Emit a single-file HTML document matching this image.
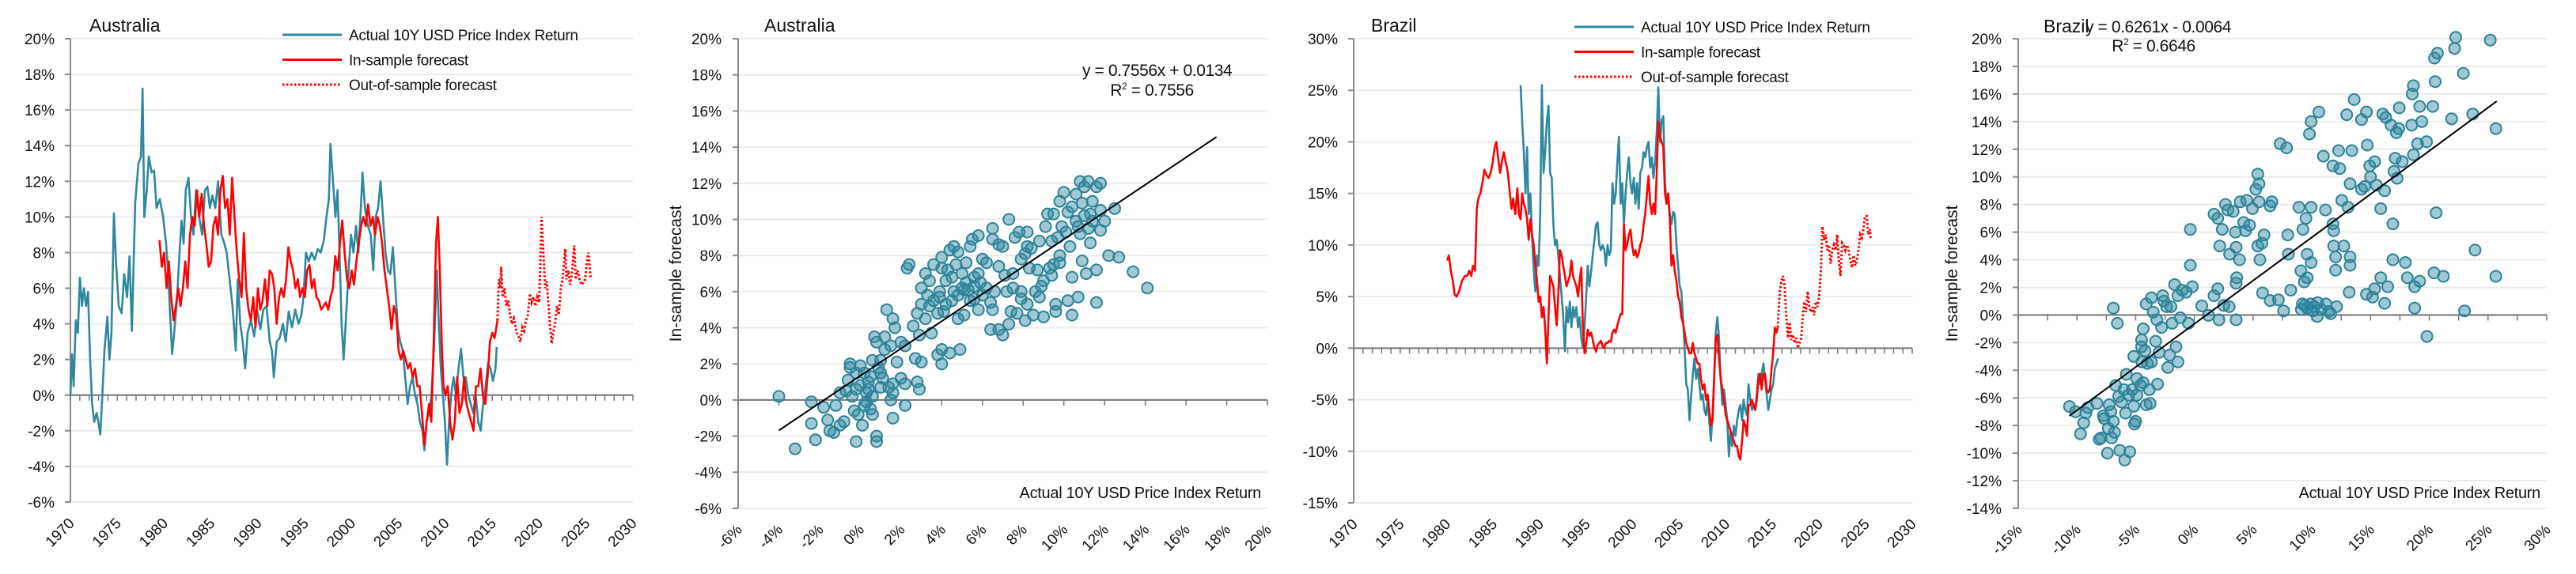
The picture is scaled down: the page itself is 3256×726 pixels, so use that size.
<!DOCTYPE html>
<html><head><meta charset="utf-8"><style>
html,body{margin:0;padding:0;background:#fff;}
svg{display:block;font-family:"Liberation Sans",sans-serif;}
</style></head><body>
<svg id="chart" xmlns="http://www.w3.org/2000/svg" width="3256" height="726" viewBox="0 0 3256 726"></svg>
<script>
// ===== Panel 1: Australia time series =====
const ausActYears=[1970.00,1970.18,1970.35,1970.57,1970.79,1971.01,1971.23,1971.44,1971.66,1971.88,1972.10,1972.32,1972.54,1972.80,1972.98,1973.19,1973.41,1973.63,1973.94,1974.16,1974.38,1974.64,1974.86,1975.16,1975.47,1975.73,1976.04,1976.30,1976.56,1976.91,1977.26,1977.53,1977.70,1977.88,1978.14,1978.36,1978.66,1978.93,1979.19,1979.54,1979.89,1980.20,1980.41,1980.63,1980.85,1981.07,1981.38,1981.64,1981.86,1982.08,1982.30,1982.60,1982.87,1983.13,1983.39,1983.74,1984.05,1984.35,1984.62,1984.88,1985.14,1985.45,1985.75,1986.10,1986.37,1986.67,1986.98,1987.29,1987.64,1987.85,1988.12,1988.38,1988.64,1988.90,1989.25,1989.60,1989.91,1990.26,1990.57,1990.92,1991.27,1991.49,1991.70,1992.01,1992.32,1992.67,1992.97,1993.28,1993.63,1993.98,1994.33,1994.64,1994.86,1995.12,1995.42,1995.73,1996.04,1996.39,1996.69,1997.04,1997.31,1997.57,1997.74,1998.01,1998.27,1998.49,1998.71,1998.93,1999.14,1999.41,1999.67,1999.93,2000.19,2000.46,2000.72,2000.98,2001.16,2001.42,2001.73,2002.03,2002.30,2002.56,2002.82,2003.08,2003.34,2003.61,2003.87,2004.13,2004.40,2004.66,2004.92,2005.18,2005.45,2005.71,2005.97,2006.23,2006.50,2006.76,2007.02,2007.28,2007.55,2007.76,2007.98,2008.25,2008.51,2008.77,2009.08,2009.30,2009.51,2009.73,2009.95,2010.17,2010.39,2010.61,2010.87,2011.13,2011.40,2011.66,2011.92,2012.18,2012.45,2012.71,2012.97,2013.23,2013.50,2013.76,2014.02,2014.29,2014.55,2014.81,2015.07,2015.34,2015.47];
const ausActVals=[0,2.3,0.5,4.2,3.5,6.6,5,6,5,5.8,2,-0.5,-1.5,-1,-1.5,-2.2,0,2.5,4.4,2,3.5,10.2,7.5,5,4.6,6.8,5.5,7.8,3.6,10.8,13,13.4,17.2,10,11.5,13.4,12.5,12.6,10.5,11,10,8.5,7,4.5,2.3,3.5,5.5,8,9.8,8.5,11.5,12.2,10,9,11.5,10,9,11.5,11.7,10.5,11.2,10.5,12,9,8.6,8,6.5,5,2.5,6.5,4,3,1.5,3.5,4.2,3.3,4.8,3.7,4.8,5,3,2.5,1,3,3.2,4,3,4.7,3.8,4.8,4,4.5,5.5,8,7.5,8,7.6,8.2,8,8.7,10,11,14.1,12,10,11.5,8,4,2,4.5,7,9,8,9.5,8,10.5,12.5,10.5,9.5,9,7,10,10.5,12,10,8,7,6.8,8.3,6,3.8,3,2.5,1,-0.5,0.5,1,0,-0.5,-1.5,-2,-3.1,-1.5,-1,0,2.5,7,4,1.5,0,-1.5,-3.9,-1.5,0,1,0,1.5,2.6,1,1,0,-0.5,-1,0,-1.5,-2,-0.5,0.5,1.8,1.5,0.8,1.5,2.7];
const ausInYears=[1979.5,1979.75,1980.0,1980.25,1980.5,1980.75,1981.0,1981.25,1981.5,1981.75,1982.0,1982.25,1982.5,1982.75,1983.0,1983.25,1983.5,1983.75,1984.0,1984.25,1984.5,1984.75,1985.0,1985.25,1985.5,1985.75,1986.0,1986.25,1986.5,1986.75,1987.0,1987.25,1987.5,1987.75,1988.0,1988.25,1988.5,1988.75,1989.0,1989.25,1989.5,1989.75,1990.0,1990.25,1990.5,1990.75,1991.0,1991.25,1991.5,1991.75,1992.0,1992.25,1992.5,1992.75,1993.0,1993.25,1993.5,1993.75,1994.0,1994.25,1994.5,1994.75,1995.0,1995.25,1995.5,1995.75,1996.0,1996.25,1996.5,1996.75,1997.0,1997.25,1997.5,1997.75,1998.0,1998.25,1998.5,1998.75,1999.0,1999.25,1999.5,1999.75,2000.0,2000.25,2000.5,2000.75,2001.0,2001.25,2001.5,2001.75,2002.0,2002.25,2002.5,2002.75,2003.0,2003.25,2003.5,2003.75,2004.0,2004.25,2004.5,2004.75,2005.0,2005.25,2005.5,2005.75,2006.0,2006.25,2006.5,2006.75,2007.0,2007.25,2007.5,2007.75,2008.0,2008.25,2008.5,2008.75,2009.0,2009.2,2009.4,2009.6,2009.8,2010.0,2010.25,2010.5,2010.75,2011.0,2011.25,2011.5,2011.75,2012.0,2012.25,2012.5,2012.75,2013.0,2013.25,2013.5,2013.75,2014.0,2014.25,2014.5,2014.75,2015.0,2015.25,2015.55];
const ausInVals=[8.7,7.2,8,6,7.5,5.5,4.2,5,6,5,6,7.5,6,9,10,9.5,11.5,10,11.3,9.5,8.5,7.2,7.5,9.5,10,9,11.5,12.3,10.5,11,9,12.2,10,8,6.5,5.5,9.1,6,4.8,4.2,5.5,3.8,6,4.8,5.3,6.5,5,7,6.8,6,4,5.5,6,5.5,6.5,8.3,7.5,7,6,6.5,5.5,6,5.5,7,7.3,6,6.5,5.5,5.3,4.8,5,5.2,4.8,5.5,6,7.8,7,8.5,9.8,8,6.5,6,7,6.2,7.5,8.5,9.5,10,9.5,10.7,9.5,10,9,10,9.5,8.5,7,6,5,3.7,5,4.5,2.5,2,2.5,2,1.5,1.8,1,1.5,0.5,0.5,-1,-2.8,-1.5,-0.5,-1.5,3,8.5,10,7,3,0.5,0,0.5,-1.5,-2.5,-1.5,1,-1,-0.5,1,-0.5,-1,-1.5,-2,0.5,0.5,1.5,0,-0.5,1,3,3.5,3.2,4.2];
const ausOutYears=[2015.55,2015.7,2015.85,2015.95,2016.1,2016.3,2016.5,2016.7,2016.9,2017.1,2017.3,2017.6,2017.8,2018.0,2018.2,2018.4,2018.6,2018.8,2019.0,2019.2,2019.4,2019.6,2019.8,2020.0,2020.1,2020.25,2020.45,2020.65,2020.8,2021.0,2021.15,2021.33,2021.5,2021.7,2021.9,2022.1,2022.3,2022.5,2022.78,2022.9,2023.1,2023.3,2023.5,2023.74,2023.9,2024.1,2024.3,2024.5,2024.7,2024.9,2025.1,2025.27,2025.5];
const ausOutVals=[4.2,6.5,6,7.2,5.5,6,5,5.3,4.5,4,4.3,3.5,3.3,3,3.8,3.6,4.2,4.5,5.7,5.2,5.5,5,5.5,5.2,7,10,8,6,6.4,5,4,2.9,3.5,4,5,4.5,6,6.5,8.2,6.5,7,6.2,6.8,8.4,6.5,7,6.5,6.2,6.3,6.5,7.5,8,6.5];
const ausYTicks=[20,18,16,14,12,10,8,6,4,2,0,-2,-4,-6];
const yearTicks=[1970,1975,1980,1985,1990,1995,2000,2005,2010,2015,2020,2025,2030];

// ===== Panel 2: Australia scatter, [actual, forecast] pairs in % =====
const ausScatter=[[-4,0.2],[-3.2,-2.7],[-2.4,-0.1],[-2.4,-1.3],[-2.2,-2.2],[-1.8,-0.4],[-1.6,-1.1],[-1.5,-1.7],[-1.3,-1.8],[-1.2,-0.3],[-1,-1.4],[-1,0.4],[-0.8,-1.2],[-0.7,0.5],[-0.6,1.1],[-0.5,2],[-0.5,1.8],[-0.4,0.2],[-0.3,-0.6],[-0.2,1.5],[-0.2,-2.3],[0,0.8],[0,1.9],[0.1,-1.4],[0.2,1.5],[0.2,-0.3],[0.3,0.4],[0.4,1],[0.5,-0.5],[0.5,1.3],[0.6,2.2],[0.6,-0.8],[0.7,3.5],[0.8,3.2],[0.8,-2],[0.8,-2.3],[0.9,1.8],[1,2.2],[1,0.7],[1.1,1.2],[1.2,3.5],[1.2,2.8],[1.3,5],[1.4,0.7],[1.5,3],[1.5,0],[1.6,-1],[1.6,4.5],[1.6,0.9],[1.6,0.4],[1.7,4],[1.8,2.1],[2,1.2],[2,3.2],[2.2,3],[2.2,-0.3],[2.2,0.9],[2.3,7.3],[2.4,7.5],[2.6,4.1],[2.7,2.3],[2.8,1],[2.8,4.8],[2.9,0.6],[2.9,3.6],[3,2.1],[3,5.3],[3,6.2],[3.2,4.5],[3.2,7],[3.3,5.8],[3.4,5.2],[3.5,3.7],[3.6,7.5],[3.6,5.5],[3.8,4.8],[3.8,2.5],[3.9,6],[4,7.9],[4,7.3],[4,2],[4,2.8],[4.1,4.9],[4.2,5.3],[4.2,6.6],[4.4,8.3],[4.4,2.6],[4.5,5.5],[4.6,6],[4.6,8.5],[4.7,7.5],[4.8,4.5],[4.8,5.8],[4.8,8.2],[4.9,2.8],[5,6.2],[5,7],[5.1,4.7],[5.2,7.6],[5.2,6.5],[5.4,5.5],[5.4,8.5],[5.5,8.9],[5.6,6.3],[5.6,6.8],[5.8,5],[5.8,9.1],[5.9,6.5],[6,7.8],[6,5.8],[6.2,6.2],[6.2,7.6],[6.4,5.4],[6.4,3.9],[6.5,9.5],[6.5,8.9],[6.5,5],[6.6,6],[6.8,8.6],[6.8,7.4],[6.8,3.9],[7,8.5],[7,3.6],[7.1,6.9],[7.2,6],[7.3,4.2],[7.3,10],[7.4,4.9],[7.5,7],[7.5,6.2],[7.6,9],[7.7,4.8],[7.8,9.3],[7.9,6],[7.9,7.8],[7.9,5.6],[8.1,4.4],[8.2,5.3],[8.2,8.5],[8.2,9.3],[8.3,7.3],[8.4,8.4],[8.5,4.7],[8.6,6],[8.7,7.2],[8.8,5.7],[8.8,8.8],[9,6.6],[9,4.6],[9.1,9.6],[9.2,10.3],[9.3,7.3],[9.4,6.9],[9.4,8.8],[9.5,10.3],[9.5,7.5],[9.6,5.3],[9.6,4.9],[9.8,11],[9.8,8],[9.8,7.6],[10,11.5],[10.1,9.3],[10.2,10.4],[10.2,5.5],[10.3,8.5],[10.4,6.8],[10.4,4.7],[10.4,10.7],[10.6,9.9],[10.6,11.4],[10.7,5.7],[10.8,12.1],[10.8,9.2],[10.9,10.9],[10.9,7.7],[11,11.8],[11.1,7],[11.2,12.1],[11.2,9.5],[11.3,8.7],[11.4,11],[11.4,9.9],[11.6,11.8],[11.6,7.2],[11.6,5.4],[11.8,10.5],[11.8,9.4],[12,9.9],[11.8,12],[12.2,8],[12.5,10.6],[12.7,7.9],[13.4,7.1],[14.1,6.2],[5.3,6.1],[5.8,7],[3.9,5.7],[4.3,7.2],[8.1,8.1],[8.9,6.3],[9.9,9.6],[11.3,10.3],[0.3,-0.1],[-0.2,0.6],[0.6,0.2],[1.0,1.5],[4.5,6.8],[5.1,6.1],[5.6,5.6],[3.4,6.6],[10.7,9.6],[11.0,10.2],[9.7,9.0],[0.4,0.6],[-0.1,-0.8]];
const ausFit=[0.7556,1.34];
const ausFitRange=[-4,17.5];
const ausScYTicks=[20,18,16,14,12,10,8,6,4,2,0,-2,-4,-6];
const ausScXTicks=[-6,-4,-2,0,2,4,6,8,10,12,14,16,18,20];

// ===== Panel 3: Brazil time series =====
const braActYears=[1987.93,1988.1,1988.28,1988.46,1988.63,1988.8,1988.99,1989.16,1989.34,1989.52,1989.7,1989.87,1990.04,1990.22,1990.4,1990.57,1990.75,1990.93,1991.1,1991.28,1991.45,1991.63,1991.81,1991.98,1992.16,1992.34,1992.51,1992.69,1992.86,1993.04,1993.22,1993.39,1993.57,1993.74,1993.92,1994.1,1994.27,1994.45,1994.63,1994.8,1994.98,1995.15,1995.33,1995.51,1995.68,1995.86,1996.04,1996.21,1996.39,1996.56,1996.74,1996.92,1997.09,1997.27,1997.45,1997.62,1997.8,1997.98,1998.15,1998.33,1998.5,1998.68,1998.85,1999.03,1999.21,1999.38,1999.56,1999.74,1999.91,2000.09,2000.26,2000.44,2000.62,2000.79,2000.97,2001.15,2001.32,2001.5,2001.67,2001.85,2002.03,2002.2,2002.38,2002.56,2002.73,2002.91,2003.08,2003.26,2003.44,2003.61,2003.79,2003.96,2004.14,2004.32,2004.49,2004.67,2004.85,2005.02,2005.2,2005.37,2005.55,2005.73,2005.9,2006.08,2006.26,2006.43,2006.61,2006.78,2006.96,2007.14,2007.31,2007.49,2007.67,2007.84,2008.02,2008.19,2008.37,2008.55,2008.72,2008.9,2009.07,2009.25,2009.43,2009.6,2009.78,2009.96,2010.13,2010.31,2010.48,2010.66,2010.84,2011.01,2011.19,2011.37,2011.54,2011.72,2011.89,2012.07,2012.25,2012.42,2012.6,2012.78,2012.95,2013.13,2013.3,2013.48,2013.66,2013.83,2014.01,2014.19,2014.36,2014.54,2014.71,2014.89,2015.07,2015.24,2015.42,2015.59];
const braActVals=[25.5,22,19,15,19.5,13,15,11,7.5,5.5,9,8,13,25.5,17,19,22,23.5,17,16.5,12,10,10.5,9,7,5,3,-0.3,4,2.5,4.5,2,4,3,4,2,3,1,0,2,5,8,6,7.5,9,10.5,12,12.2,10,9.5,10,9.5,8,10,9,9.5,16,14,15,18,20.5,14,16,12,15,17,18.5,16,15,16.5,14,16,13.5,17,17.5,19,18.5,19.5,20,17.5,18.5,16.5,18,21,25.3,20,22,22.5,16,14,15,13,12,13.2,13,10,8,6,5.5,3,0,-3.5,-4,-7,-4.5,-2.5,-1,-3,-2,-3.5,-5,-4.5,-6,-6.5,-5,-7,-9,-6.5,-3,1.5,3,1,-3,-5.5,-4,-5.5,-7,-10.5,-8,-9.5,-7.5,-8.5,-7,-6,-5.5,-7,-5,-6,-6.5,-3.5,-5,-6,-5.5,-6,-4.5,-2.5,-3.5,-2.5,-1.5,-3,-4.5,-6,-5,-4,-3.5,-2,-1.5,-1];
const braInYears=[1980.04,1980.22,1980.44,1980.66,1980.84,1981.06,1981.32,1981.63,1981.94,1982.2,1982.42,1982.64,1982.82,1983.04,1983.22,1983.39,1983.61,1983.83,1984.05,1984.27,1984.49,1984.71,1984.93,1985.15,1985.33,1985.51,1985.73,1985.9,1986.12,1986.34,1986.56,1986.78,1986.96,1987.14,1987.36,1987.58,1987.75,1987.93,1988.1,1988.28,1988.46,1988.63,1988.8,1988.99,1989.16,1989.34,1989.52,1989.7,1989.87,1990.04,1990.22,1990.4,1990.57,1990.75,1990.93,1991.1,1991.28,1991.45,1991.63,1991.81,1991.98,1992.16,1992.34,1992.51,1992.69,1992.86,1993.04,1993.22,1993.39,1993.57,1993.74,1993.92,1994.1,1994.27,1994.45,1994.63,1994.8,1994.98,1995.15,1995.33,1995.51,1995.68,1995.86,1996.04,1996.21,1996.39,1996.56,1996.74,1996.92,1997.09,1997.27,1997.45,1997.62,1997.8,1997.98,1998.15,1998.33,1998.5,1998.68,1998.85,1999.03,1999.21,1999.38,1999.56,1999.74,1999.91,2000.09,2000.26,2000.44,2000.62,2000.79,2000.97,2001.15,2001.32,2001.5,2001.67,2001.85,2002.03,2002.2,2002.38,2002.56,2002.73,2002.91,2003.08,2003.26,2003.44,2003.61,2003.79,2003.96,2004.14,2004.32,2004.49,2004.67,2004.85,2005.02,2005.2,2005.37,2005.55,2005.73,2005.9,2006.08,2006.26,2006.43,2006.61,2006.78,2006.96,2007.14,2007.31,2007.49,2007.67,2007.84,2008.02,2008.19,2008.37,2008.55,2008.72,2008.9,2009.07,2009.25,2009.43,2009.6,2009.78,2009.96,2010.13,2010.31,2010.48,2010.66,2010.84,2011.01,2011.19,2011.37,2011.54,2011.72,2011.89,2012.07,2012.25,2012.42,2012.6,2012.78,2012.95,2013.13,2013.3,2013.48,2013.66,2013.83,2014.01,2014.19,2014.36,2014.54,2014.71,2014.89,2015.07,2015.24,2015.42,2015.55];
const braInVals=[8.5,9,7.5,6.5,5.2,5,5.5,6.5,7,7,7.5,7,8,7.5,13.5,14.5,15,16,17.3,16.8,16.5,17,18,19.5,20,18.5,17,18,19,18,17,15,13.5,14.5,13,15.5,13,12.5,15,14,13.5,12.5,10.5,12.5,11,10,8,6.5,4.5,5,3,4,2,-1.5,3,7,6.5,6,4,2.2,5,9.5,9,8,7,6,6.5,7,8.5,7,6.5,6,5,6.5,7.8,2,-0.5,0.5,1.8,1.2,1.5,0.8,0,-0.3,0.3,0.5,0.7,0.2,0,0.5,0.5,0.7,0.6,1.5,1.8,1.5,2.2,2.8,3.3,3.3,12,9.5,10,11,11.5,10,9,9.5,8.8,9.2,10,10.5,12,13,15,16.7,14,13,14,13,17,22,20.5,20,19.5,15,14,15,12.5,8,9,7.5,6.5,5,4.5,3,2.5,1.5,0.5,0,-0.5,-0.5,0.5,-0.5,-1,-1.5,-1.5,-3,-4,-3.5,-5,-4.5,-6,-7.5,-7,-3,1,1.3,-1,-3,-4,-5,-6.5,-7,-7.5,-8,-8.5,-9,-9.5,-9.5,-10.5,-10.8,-9,-7,-7.5,-8.5,-5.5,-5.5,-5,-5.5,-6,-5,-3,-2.5,-4,-2.5,-2.5,-4,-4.3,-4,-2,-0.5,2,1.5,2];
const braOutYears=[2015.55,2015.77,2015.95,2016.12,2016.3,2016.48,2016.65,2016.83,2017.0,2017.18,2017.36,2017.53,2017.71,2017.89,2018.06,2018.24,2018.41,2018.59,2018.77,2018.94,2019.12,2019.3,2019.47,2019.65,2019.83,2020.0,2020.18,2020.35,2020.53,2020.7,2020.88,2021.06,2021.23,2021.41,2021.59,2021.76,2021.94,2022.11,2022.29,2022.47,2022.64,2022.82,2023.0,2023.17,2023.35,2023.52,2023.7,2023.88,2024.05,2024.23,2024.41,2024.58,2024.76,2024.93,2025.11,2025.29,2025.46,2025.55];
const braOutVals=[2,5.5,6.5,7,6,3,1,2.5,0.8,1.3,0.5,1,0,0.5,0.8,3,4.5,3.5,5.5,4,3.5,4,3.2,4.5,4,5,7.5,11.8,10.5,11,9.5,10,8.2,9.5,10,9.5,11,8.5,7,10.2,10,9.5,10,9.5,8.5,7.8,9,8,8.5,9.5,11,10.7,11.5,12.8,12.8,11,11.5,10.5];
const braYTicks=[30,25,20,15,10,5,0,-5,-10,-15];

// ===== Panel 4: Brazil scatter, [actual, forecast] pairs in % =====
const braScatter=[[-10.64,-6.62],[-10.12,-7.0],[-9.7,-8.6],[-9.42,-7.8],[-9.24,-7.1],[-9.07,-6.7],[-8.3,-6.4],[-8.1,-9.0],[-7.95,-8.9],[-7.75,-7.3],[-7.68,-7.5],[-7.4,-10],[-7.33,-8.2],[-7.26,-6.5],[-7.12,-7.0],[-7.05,-8.9],[-6.9,-7.7],[-6.8,-8.5],[-6.9,0.5],[-6.56,-0.6],[-6.7,-5.1],[-6.45,-5.9],[-6.35,-9.8],[-6.2,-6.3],[-6.0,-5.4],[-5.93,-10.5],[-5.86,-7.1],[-5.8,-4.3],[-5.6,-5.8],[-5.5,-9.9],[-5.3,-5.4],[-5.16,-6.6],[-5.1,-7.9],[-5.0,-7.7],[-4.9,-5.8],[-5.16,-3.0],[-4.9,-4.6],[-4.6,-5.1],[-4.47,-3.4],[-4.5,-2.3],[-4.5,-1.8],[-4.36,-4.9],[-4.36,-1.0],[-4.2,-2.6],[-4.1,-6.5],[-4.0,-3.5],[-3.77,-6.4],[-3.84,-5.4],[-3.66,-3.4],[-4.1,0.8],[-3.66,1.25],[-3.5,0.2],[-3.3,-1.9],[-3.2,-0.35],[-3.14,-5.0],[-3.0,-2.7],[-2.8,-0.9],[-2.7,1.4],[-2.6,1.0],[-2.37,0.6],[-2.27,-3.8],[-2.1,-2.9],[-1.9,-0.6],[-2.0,0.6],[-1.68,2.2],[-1.57,-2.3],[-1.4,-3.4],[-1.4,1.4],[-1.2,-0.2],[-1.05,1.8],[-0.7,1.65],[-0.5,-0.6],[-0.35,6.2],[-0.35,3.6],[-0.18,2.05],[0.63,0.66],[1.2,-0.03],[1.67,1.4],[1.99,1.9],[2.1,-0.35],[1.67,7.3],[1.99,7.0],[2.16,5.0],[2.37,6.2],[2.5,0.7],[2.65,8.0],[2.86,7.6],[2.96,0.6],[3.0,4.4],[3.3,7.5],[3.5,6.0],[3.55,4.9],[3.6,2.7],[3.55,2.3],[3.55,-0.35],[3.84,4.0],[3.9,8.2],[4.2,6.7],[4.36,6.1],[4.46,8.3],[4.7,6.5],[4.95,7.7],[5.23,9.1],[5.4,10.2],[5.5,9.5],[5.5,8.2],[5.58,4.0],[5.4,5.0],[5.75,5.2],[5.8,1.6],[5.93,5.8],[6.45,7.9],[6.6,8.2],[6.45,1.05],[7.15,1.1],[7.3,12.4],[7.85,12.1],[7.6,0.3],[7.95,5.8],[8.0,4.4],[8.2,1.8],[8.9,7.8],[9.07,3.2],[9.24,6.2],[9.5,7.0],[9.6,4.4],[9.6,2.7],[9.35,2.4],[9.4,0.7],[9.94,7.8],[9.94,3.8],[9.94,14.0],[9.8,13.1],[10.6,14.7],[10.1,0.3],[10.46,-0.1],[10.98,11.5],[11.16,7.6],[11.44,0.25],[11.8,10.8],[11.8,6.6],[11.86,6.1],[11.86,5.0],[12.03,4.2],[12.03,3.25],[12.28,11.9],[12.38,10.6],[12.55,8.3],[12.73,5.0],[12.97,14.5],[13.08,7.8],[13.18,1.65],[13.25,4.2],[13.25,3.6],[13.4,11.9],[13.25,9.5],[13.6,15.6],[14.23,14.15],[14.23,9.1],[14.65,14.7],[14.72,12.3],[14.65,1.5],[14.93,10.8],[15.0,10.0],[15.17,1.3],[15.35,11.1],[15.35,1.9],[15.87,7.7],[15.87,2.7],[16.04,14.55],[16.2,9.0],[16.2,0.85],[16.46,2.05],[16.74,13.75],[16.9,6.6],[16.9,4.0],[17.0,10.4],[17.1,11.35],[17.26,9.9],[17.44,15.0],[17.7,11.1],[17.96,3.8],[18.13,2.7],[18.5,13.75],[18.55,16.0],[18.65,16.6],[18.65,11.6],[18.76,2.05],[18.76,0.5],[19.0,12.4],[19.18,15.1],[19.18,2.45],[19.36,14.0],[19.77,12.55],[19.8,-1.55],[20.3,15.1],[20.4,3.05],[20.58,7.4],[20.5,16.9],[20.44,18.6],[20.7,18.95],[21.2,2.8],[21.9,14.2],[22.15,19.3],[22.25,20.1],[22.9,17.5],[23.0,0.3],[23.7,14.55],[23.9,4.7],[25.2,19.9],[25.67,13.5],[25.67,2.8],[9.2,0.8],[9.6,0.5],[9.9,0.8],[10.2,0.6],[10.8,0.4],[11.2,0.8],[12.1,0.6],[11.6,0.1],[10.5,0.9],[9.1,0.4],[16.3,14.3],[17.4,13.5],[17.2,13.2],[14.5,9.3],[15.5,9.4]];
const braFit=[0.6261,-0.64];
const braFitRange=[-10.64,25.74];
const braScYTicks=[20,18,16,14,12,10,8,6,4,2,0,-2,-4,-6,-8,-10,-12,-14];
const braScXTicks=[-15,-10,-5,0,5,10,15,20,25,30];

const NS="http://www.w3.org/2000/svg";
const svg=document.getElementById('chart');
const TEAL="#2f87a0", RED="#ff0000", GRID="#ebebeb", AXIS="#8a8a8a";
function lin(d0,d1,r0,r1){return v=>r0+(v-d0)*(r1-r0)/(d1-d0);}
function mk(tag,attrs,parent){const e=document.createElementNS(NS,tag);for(const k in attrs)e.setAttribute(k,attrs[k]);(parent||svg).appendChild(e);return e;}
function txt(s,attrs,parent){const e=mk('text',attrs,parent);e.textContent=s;return e;}
function pct(v){return v+'%';}

function drawFrame(g,p,xs,ys,yTicks,xTicks,xMinorStep,xLabelFmt){
  yTicks.forEach(v=>{
    const y=ys(v);
    const gl=mk('line',{x1:p.ax,x2:p.right,y1:y,y2:y,stroke:GRID,'stroke-width':2},g);
    
    
    const tk=mk('line',{x1:p.ax-7,x2:p.ax,y1:y,y2:y,stroke:AXIS,'stroke-width':2},g);
    
    
    const lb=txt(pct(v),{x:p.ylx,y:y+7,'text-anchor':'end','font-size':19,fill:'#111'},g);
    
    
  });
  const ya=mk('line',{x1:p.ax,x2:p.ax,y1:ys(yTicks[0]),y2:ys(yTicks[yTicks.length-1]),stroke:AXIS,'stroke-width':2},g);
  
  
  const y0=ys(0);
  const xa=mk('line',{x1:p.ax,x2:p.right,y1:y0,y2:y0,stroke:'#777','stroke-width':2},g);
  
  
  const x0=xTicks[0],x1=xTicks[xTicks.length-1];
  for(let v=x0; v<=x1+1e-9; v+=xMinorStep){
    const x=xs(v);
    const mt=mk('line',{x1:x,x2:x,y1:y0,y2:y0+7,stroke:'#777','stroke-width':1.5},g);
    
    
  }
  xTicks.forEach(v=>{
    const x=xs(v);
    const by=p.bottom+28;
    const lb=txt(xLabelFmt(v),{x:x+6,y:by,'text-anchor':'end','font-size':19,fill:'#111',transform:`rotate(-45 ${x+6} ${by})`},g);
    
    
  });
}
function pathD(xsArr,ysArr,xs,ys){const n=Math.min(xsArr.length,ysArr.length);let d='';for(let i=0;i<n;i++){d+=(i?'L':'M')+xs(xsArr[i]).toFixed(1)+','+ys(ysArr[i]).toFixed(1);}return d;}

function linePanel(cfg){
  const g=mk('g',{});
  
  
  const xs=lin(1970,2030,cfg.ax,cfg.right);
  const ys=lin(cfg.yMax,cfg.yMin,cfg.top,cfg.bottom);
  drawFrame(g,cfg,xs,ys,cfg.yTicks,yearTicks,1,v=>String(v));
  const a=mk('path',{d:pathD(cfg.actY,cfg.actV,xs,ys),fill:'none',stroke:TEAL,'stroke-width':2.6,'stroke-linejoin':'round'},g);
  
  
  const b=mk('path',{d:pathD(cfg.inY,cfg.inV,xs,ys),fill:'none',stroke:RED,'stroke-width':2.6,'stroke-linejoin':'round'},g);
  
  
  const c=mk('path',{d:pathD(cfg.outY,cfg.outV,xs,ys),fill:'none',stroke:RED,'stroke-width':3,'stroke-dasharray':'2.5,2.5'},g);
  
  
  const t=txt(cfg.title,{x:cfg.tx,y:40,'font-size':23,fill:'#111'},g);
  
  
  const lg=mk('g',{},g);
  
  
  const items=[['Actual 10Y USD Price Index Return',TEAL,null],['In-sample forecast',RED,null],['Out-of-sample forecast',RED,'2.5,2.5']];
  items.forEach((it,i)=>{
    const y=cfg.ly+i*31.5;
    const ln=mk('line',{x1:cfg.lx,x2:cfg.lx+75,y1:y,y2:y,stroke:it[1],'stroke-width':3,'stroke-dasharray':it[2]||'none'},lg);
    
    
    const lt=txt(it[0],{x:cfg.lx+84,y:y+7,'font-size':19,fill:'#111','letter-spacing':'-0.3'},lg);
    
    
  });
}

function scatterPanel(cfg){
  const g=mk('g',{});
  
  
  const xs=lin(cfg.xTicks[0],cfg.xTicks[cfg.xTicks.length-1],cfg.ax,cfg.right);
  const ys=lin(cfg.yMax,cfg.yMin,cfg.top,cfg.bottom);
  drawFrame(g,cfg,xs,ys,cfg.yTicks,cfg.xTicks,cfg.minor,v=>pct(v));
  cfg.pts.forEach(p=>{
    const c=mk('circle',{cx:xs(p[0]).toFixed(1),cy:ys(p[1]).toFixed(1),r:7,fill:'rgba(47,135,160,0.45)',stroke:'#2c8299','stroke-width':2},g);
    
    
  });
  const f=cfg.fit,r=cfg.fitRange;
  const tl=mk('line',{x1:xs(r[0]),y1:ys(f[0]*r[0]+f[1]),x2:xs(r[1]),y2:ys(f[0]*r[1]+f[1]),stroke:'#000','stroke-width':2},g);
  
  
  const t=txt(cfg.title,{x:cfg.tx,y:cfg.ty,'font-size':23,fill:'#111'},g);
  
  
  const eq=txt(cfg.eq,{x:cfg.eqx,y:cfg.eqy,'font-size':21,fill:'#111','letter-spacing':'-0.4'},g);
  
  
  const r2=txt('',{x:cfg.r2x,y:cfg.r2y,'font-size':21,fill:'#111','text-anchor':'middle','letter-spacing':'-0.4'},g);
  
  
  const s1=mk('tspan',{},r2);s1.textContent='R';
  const s2=mk('tspan',{dy:-8,'font-size':12},r2);s2.textContent='2';
  const s3=mk('tspan',{dy:8},r2);s3.textContent=' = '+cfg.r2;
  const xt=txt('Actual 10Y USD Price Index Return',{x:cfg.right-8,y:630,'font-size':20,fill:'#111','text-anchor':'end','letter-spacing':'-0.3'},g);
  
  
  const yt=txt('In-sample forecast',{x:cfg.ytx,y:346,'font-size':21,fill:'#111','text-anchor':'middle',transform:`rotate(-90 ${cfg.ytx} 346)`},g);
  
  
}

linePanel({name:'australia-timeseries-panel',ax:89,right:800,top:49,bottom:635,yMax:20,yMin:-6,yTicks:ausYTicks,ylx:69,
  actY:ausActYears,actV:ausActVals,inY:ausInYears,inV:ausInVals,outY:ausOutYears,outV:ausOutVals,
  title:'Australia',tx:113,lx:357,ly:44});
scatterPanel({name:'australia-scatter-panel',ax:933,right:1602,top:49,bottom:643,yMax:20,yMin:-6,yTicks:ausScYTicks,xTicks:ausScXTicks,minor:2,ylx:912,
  pts:ausScatter,fit:ausFit,fitRange:ausFitRange,title:'Australia',tx:966,ty:40,
  eq:'y = 0.7556x + 0.0134',eqx:1368,eqy:96,r2x:1456,r2y:121,r2:'0.7556',ytx:861});
linePanel({name:'brazil-timeseries-panel',ax:1711,right:2417,top:49,bottom:636,yMax:30,yMin:-15,yTicks:braYTicks,ylx:1691,
  actY:braActYears,actV:braActVals,inY:braInYears,inV:braInVals,outY:braOutYears,outV:braOutVals,
  title:'Brazil',tx:1733,lx:1990,ly:34});
scatterPanel({name:'brazil-scatter-panel',ax:2551,right:3219,top:49,bottom:643,yMax:20,yMin:-14,yTicks:braScYTicks,xTicks:braScXTicks,minor:2.5,ylx:2530,
  pts:braScatter,fit:braFit,fitRange:braFitRange,title:'Brazil',tx:2583,ty:41,
  eq:'y = 0.6261x - 0.0064',eqx:2636,eqy:41,r2x:2722,r2y:65,r2:'0.6646',ytx:2474});
</script>
</body></html>
